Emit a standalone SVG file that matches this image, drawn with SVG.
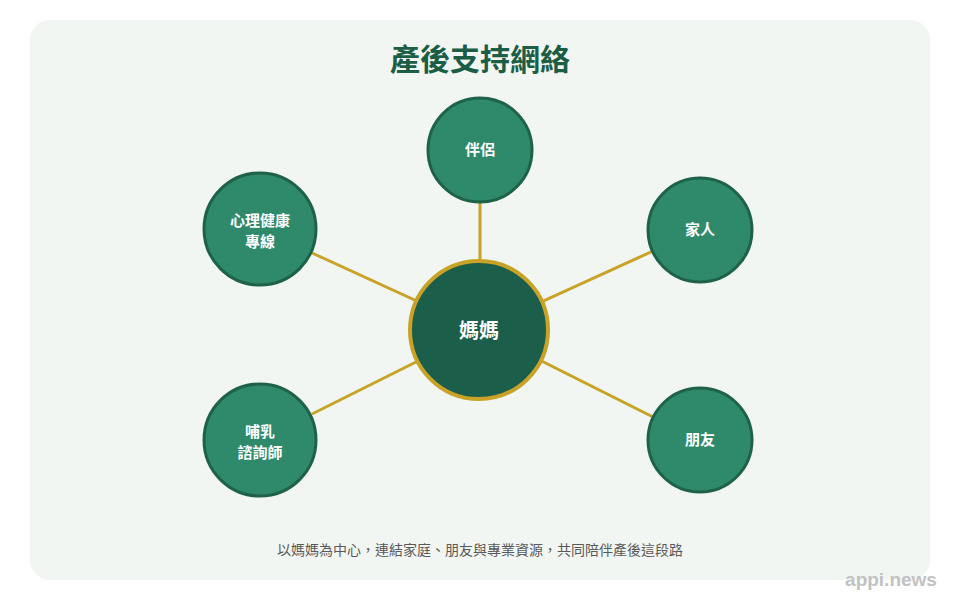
<svg xmlns="http://www.w3.org/2000/svg" width="960" height="600" viewBox="0 0 960 600">
<style>
.t{font-family:"Noto Sans CJK TC","Noto Sans CJK SC",sans-serif;}
.node circle{fill:#2e8a6b;stroke:#1d6249;stroke-width:3;}
.node text{fill:#fff;font-size:15px;font-weight:700;text-anchor:middle;}
.conn line{stroke:#c9a227;stroke-width:3;}
</style>
<rect width="960" height="600" fill="#ffffff"/>
<rect x="30" y="20" width="900" height="560" rx="20" fill="#f1f6f3"/>
<text class="t" x="480" y="70" font-size="30" font-weight="700" fill="#1b5e45" text-anchor="middle">產後支持網絡</text>
<g class="conn">
<line x1="480" y1="330" x2="480" y2="203"/>
<line x1="480" y1="330" x2="653" y2="251"/>
<line x1="480" y1="330" x2="312" y2="253"/>
<line x1="480" y1="330" x2="312" y2="414"/>
<line x1="480" y1="330" x2="653" y2="417"/>
</g>
<g id="node-mom">
<circle cx="479" cy="330" r="69" fill="#1b5e4a" stroke="#c9a227" stroke-width="4"/>
<text class="t" x="479" y="338" font-size="20" font-weight="700" fill="#fff" text-anchor="middle">媽媽</text>
</g>
<g id="node-partner" class="node t">
<circle cx="480" cy="150" r="52"/>
<text x="480" y="155">伴侶</text>
</g>
<g id="node-family" class="node t">
<circle cx="700" cy="230" r="52"/>
<text x="700" y="235">家人</text>
</g>
<g id="node-mental" class="node t">
<circle cx="260" cy="229" r="56"/>
<text x="260" y="226">心理健康</text>
<text x="260" y="247">專線</text>
</g>
<g id="node-lactation" class="node t">
<circle cx="260" cy="440" r="56"/>
<text x="260" y="437">哺乳</text>
<text x="260" y="458">諮詢師</text>
</g>
<g id="node-friends" class="node t">
<circle cx="700" cy="440" r="52"/>
<text x="700" y="445">朋友</text>
</g>
<text class="t" x="480" y="555" font-size="14" fill="#5a5a5a" text-anchor="middle">以媽媽為中心，連結家庭、朋友與專業資源，共同陪伴產後這段路</text>
<text x="891" y="586" font-family="Liberation Sans, Arial, sans-serif" font-size="19" font-weight="700" fill="#c2c2c2" text-anchor="middle">appi.news</text>
</svg>
